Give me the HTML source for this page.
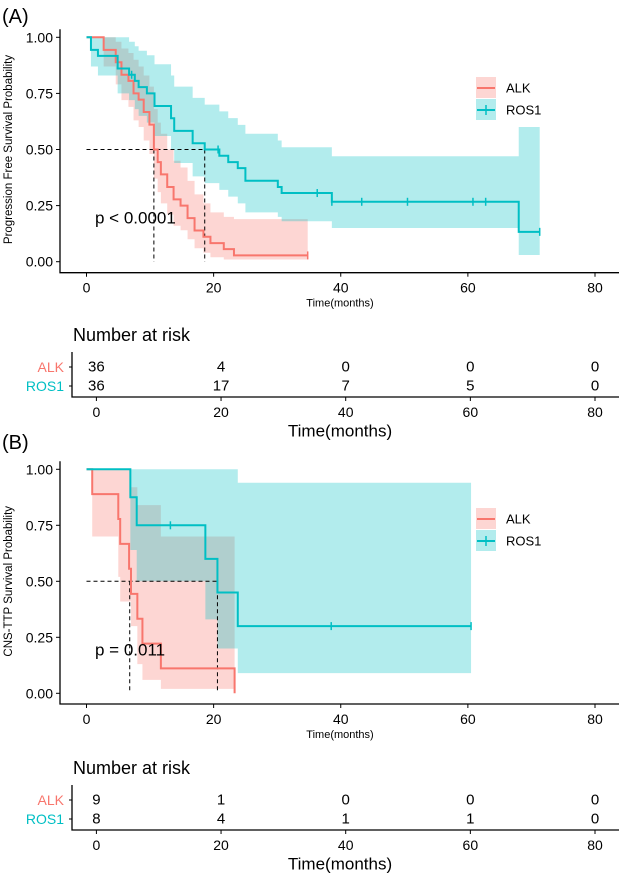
<!DOCTYPE html>
<html><head><meta charset="utf-8">
<style>
html,body{margin:0;padding:0;background:#fff;}
svg text{font-family:"Liberation Sans",Arial,sans-serif;}
</style></head>
<body>
<svg id="fig" width="622" height="874" viewBox="0 0 622 874" xmlns="http://www.w3.org/2000/svg"></svg>
<script>
// ---- Panel A data ----
const aAlkTimes=[0,2.7,4.6,5.5,6.6,7.4,8.2,9,9.9,10.6,11.2,11.7,12.7,13.7,14.8,15.9,17,18.4,19.5,21.6,23.2];
const aAlkSurv=[1,0.944,0.889,0.833,0.806,0.75,0.722,0.667,0.611,0.5,0.444,0.389,0.333,0.278,0.25,0.194,0.139,0.111,0.083,0.056,0.028];
const aAlkUpper=[1,1,0.98,0.95,0.93,0.9,0.87,0.83,0.78,0.68,0.62,0.57,0.5,0.45,0.42,0.36,0.3,0.26,0.22,0.2,0.19];
const aAlkLower=[1,0.87,0.79,0.72,0.69,0.63,0.6,0.54,0.48,0.37,0.31,0.26,0.21,0.16,0.14,0.1,0.06,0.04,0.02,0.01,0.01];
const aAlkEnd=34.8;
const aAlkCensor=[34.8];
const aRosTimes=[0,0.7,1.8,4.9,6.7,7.6,8.2,9.5,10.7,13.3,13.8,16.7,18.6,20.9,22.3,23.8,25,30.1,30.7,38.6,68];
const aRosSurv=[1,0.944,0.917,0.861,0.833,0.806,0.778,0.75,0.694,0.639,0.583,0.528,0.5,0.472,0.444,0.417,0.361,0.333,0.306,0.267,0.133];
const aRosUpper=[1,1,1,1,0.98,0.96,0.94,0.92,0.88,0.83,0.78,0.73,0.70,0.67,0.64,0.61,0.57,0.54,0.51,0.47,0.6];
const aRosLower=[1,0.87,0.83,0.75,0.72,0.68,0.65,0.62,0.56,0.5,0.44,0.38,0.35,0.32,0.29,0.26,0.22,0.2,0.18,0.15,0.03];
const aRosEnd=71.3;
const aRosCensor=[7.1,20.7,36.3,38.6,43.3,50.5,60.8,62.8,71.3];
const aMedians=[10.6,18.6];
const aRiskAlk=[36,4,0,0,0];
const aRiskRos=[36,17,7,5,0];
// ---- Panel B data ----
const bAlkTimes=[0,0.9,5.0,5.3,6.7,7.0,8.0,8.8,11.7];
const bAlkSurv=[1,0.889,0.778,0.667,0.556,0.444,0.333,0.222,0.111];
const bAlkUpper=[1,1,1,1,1,0.92,0.84,0.84,0.70];
const bAlkLower=[1,0.70,0.52,0.41,0.41,0.3,0.13,0.06,0.02];
const bAlkEnd=23.3;
const bAlkFinal=0;
const bRosTimes=[0,6.9,7.9,18.7,20.6,23.8];
const bRosSurv=[1,0.875,0.75,0.6,0.45,0.3];
const bRosUpper=[1,1,1,1,1,0.94];
const bRosLower=[1,0.64,0.5,0.33,0.2,0.09];
const bRosEnd=60.5;
const bRosCensor=[13.2,38.5,60.5];
const bMedians=[6.8,20.6];
const bRiskAlk=[9,1,0,0,0];
const bRiskRos=[8,4,1,1,0];
const xTicks=[0,20,40,60,80];
const yTicks=[0,0.25,0.5,0.75,1];
const yTickLabels=["0.00","0.25","0.50","0.75","1.00"];

const RED="#F8766D", TEAL="#00BFC4";
const svg=document.getElementById('fig');
const NS="http://www.w3.org/2000/svg";
function mk(tag,attrs,parent){const e=document.createElementNS(NS,tag);for(const k in attrs)e.setAttribute(k,attrs[k]);(parent||svg).appendChild(e);return e;}
function txt(s,x,y,size,anchor,fill,parent){const t=mk('text',{x:x,y:y,'font-size':size,'text-anchor':anchor||'start',fill:fill||'#000','dominant-baseline':'central'},parent);t.textContent=s;return t;}

function panel(cfg){
  const g=mk('g',{});
  
  
  const X=t=>86.5+t*(595-86.5)/80;
  const Y=s=>cfg.y0+(1-s)*(cfg.yZero-cfg.y0);
  // bands
  function band(times,up,lo,end,color,name){
    let d='M'+X(times[0])+','+Y(up[0]);
    for(let i=0;i<times.length;i++){const t2=i+1<times.length?times[i+1]:end;d+=' L'+X(times[i])+','+Y(up[i])+' L'+X(t2)+','+Y(up[i]);}
    for(let i=times.length-1;i>=0;i--){const t2=i+1<times.length?times[i+1]:end;d+=' L'+X(t2)+','+Y(lo[i])+' L'+X(times[i])+','+Y(lo[i]);}
    const p=mk('path',{d:d+'Z',fill:color,'fill-opacity':0.3,stroke:'none'},g);
    
    
  }
  function curve(times,surv,end,color,name,final){
    let d='M'+X(times[0])+','+Y(surv[0]);
    for(let i=1;i<times.length;i++){d+=' H'+X(times[i])+' V'+Y(surv[i]);}
    d+=' H'+X(end);
    if(final!==undefined)d+=' V'+Y(final);
    const p=mk('path',{d:d,fill:'none',stroke:color,'stroke-width':2},g);
    
    
  }
  function survAt(times,surv,t){let s=surv[0];for(let i=0;i<times.length;i++)if(times[i]<=t)s=surv[i];return s;}
  function censors(times,surv,cs,color,name){
    cs.forEach(t=>{const s=survAt(times,surv,t);const l=mk('line',{x1:X(t),x2:X(t),y1:Y(s)-4,y2:Y(s)+4,stroke:color,'stroke-width':1.5},g);
      
      });
  }
  band(cfg.alk.t,cfg.alk.u,cfg.alk.l,cfg.alk.end,RED,'alk-confidence-band');
  band(cfg.ros.t,cfg.ros.u,cfg.ros.l,cfg.ros.end,TEAL,'ros1-confidence-band');
  // median lines
  const md=mk('path',{d:'M'+X(0)+','+Y(0.5)+' H'+X(cfg.med[1])+' M'+X(cfg.med[0])+','+Y(0.5)+' V'+Y(0)+' M'+X(cfg.med[1])+','+Y(0.5)+' V'+Y(0),stroke:'#000','stroke-width':1,'stroke-dasharray':'4,3',fill:'none'},g);
  
  
  curve(cfg.alk.t,cfg.alk.s,cfg.alk.end,RED,'alk-curve',cfg.alk.final);
  curve(cfg.ros.t,cfg.ros.s,cfg.ros.end,TEAL,'ros1-curve');
  censors(cfg.alk.t,cfg.alk.s,cfg.alk.c,RED,'alk-censor-mark');
  censors(cfg.ros.t,cfg.ros.s,cfg.ros.c,TEAL,'ros1-censor-mark');
  // axes
  mk('path',{d:'M60,'+(cfg.y0-8)+' V'+cfg.axisY+' H619',stroke:'#000','stroke-width':1.3,fill:'none'},g);
  yTicks.forEach((v,i)=>{mk('line',{x1:56,x2:60,y1:Y(v),y2:Y(v),stroke:'#000'},g);
    const t=txt(yTickLabels[i],53,Y(v),14,'end','#000',g);
    
    });
  xTicks.forEach(v=>{mk('line',{x1:X(v),x2:X(v),y1:cfg.axisY,y2:cfg.axisY+4,stroke:'#000'},g);
    const t=txt(String(v),X(v),cfg.axisY+15,14,'middle','#000',g);
    
    });
  const xt=txt('Time(months)',340,cfg.axisY+31,11,'middle','#000',g);
  
  
  const yl=txt(cfg.ylab,0,0,11.5,'middle','#000',g);
  yl.setAttribute('transform','translate(9,'+((cfg.y0+cfg.yZero)/2)+') rotate(-90)');
  
  
  const lbl=txt(cfg.label,2,cfg.labelY,20,'start','#000',g);
  
  
  const pv=txt(cfg.p,95,cfg.pY,17,'start','#000',g);
  
  
  // legend
  [[RED,'ALK',cfg.legY,false],[TEAL,'ROS1',cfg.legY+22,true]].forEach(([c,n,y,cross])=>{
    const lg=mk('g',{},g);
    
    
    mk('rect',{x:476,y:y-11,width:20,height:21,fill:c,'fill-opacity':0.3},lg);
    mk('line',{x1:477,x2:495,y1:y,y2:y,stroke:c,'stroke-width':2},lg);
    if(cross)mk('line',{x1:486,x2:486,y1:y-5,y2:y+5,stroke:c,'stroke-width':1.5},lg);
    txt(n,506,y,13,'start','#000',lg);
  });
  // risk table
  const RX=v=>96.4+v*(595-96.4)/80;
  const rt=mk('g',{},g);
  
  
  txt('Number at risk',73,cfg.riskY,18,'start','#000',rt);
  mk('path',{d:'M72,'+(cfg.riskY+17)+' V'+(cfg.riskY+62)+' H619',stroke:'#000','stroke-width':1.3,fill:'none'},rt);
  [[cfg.rAlk,'ALK',RED,cfg.riskY+32],[cfg.rRos,'ROS1',TEAL,cfg.riskY+51]].forEach(([arr,n,c,y])=>{
    txt(n,64,y,14,'end',c,rt);
    mk('line',{x1:69,x2:72,y1:y,y2:y,stroke:'#000'},rt);
    arr.forEach((v,i)=>{const t=txt(String(v),RX(xTicks[i]),y,15,'middle','#000',rt);
      
      });
  });
  xTicks.forEach(v=>{mk('line',{x1:RX(v),x2:RX(v),y1:cfg.riskY+62,y2:cfg.riskY+66,stroke:'#000'},rt);
    txt(String(v),RX(v),cfg.riskY+77,14,'middle','#000',rt);});
  txt('Time(months)',340,cfg.riskY+96,17,'middle','#000',rt);
}

panel({name:'panel-a',label:'(A)',labelY:17,y0:37.3,yZero:261.7,axisY:272.7,ylab:'Progression Free Survival Probability',
  p:'p < 0.0001',pY:218,legY:88,riskY:335,rAlk:aRiskAlk,rRos:aRiskRos,med:aMedians,
  alk:{t:aAlkTimes,s:aAlkSurv,u:aAlkUpper,l:aAlkLower,end:aAlkEnd,c:aAlkCensor},
  ros:{t:aRosTimes,s:aRosSurv,u:aRosUpper,l:aRosLower,end:aRosEnd,c:aRosCensor}});
panel({name:'panel-b',label:'(B)',labelY:443,y0:469.3,yZero:693.3,axisY:704,ylab:'CNS-TTP Survival Probability',
  p:'p = 0.011',pY:650,legY:519,riskY:768,rAlk:bRiskAlk,rRos:bRiskRos,med:bMedians,
  alk:{t:bAlkTimes,s:bAlkSurv,u:bAlkUpper,l:bAlkLower,end:bAlkEnd,c:[],final:bAlkFinal},
  ros:{t:bRosTimes,s:bRosSurv,u:bRosUpper,l:bRosLower,end:bRosEnd,c:bRosCensor}});
</script>
</body></html>
